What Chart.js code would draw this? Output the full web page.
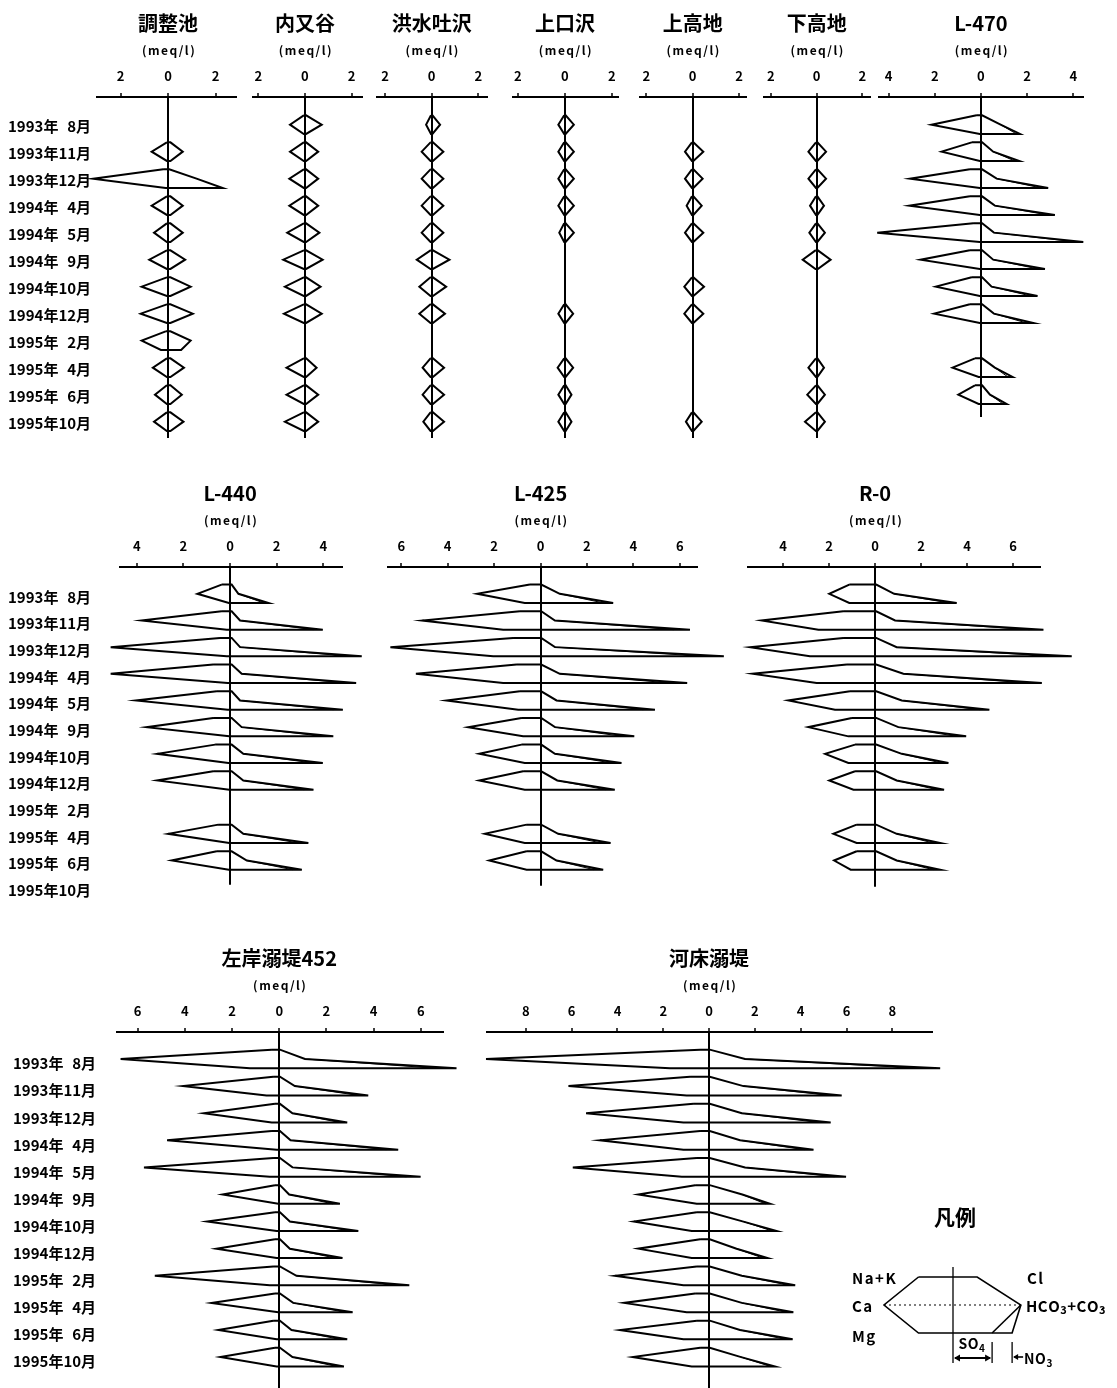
<!DOCTYPE html>
<html>
<head>
<meta charset="utf-8">
<script src="https://cdn.jsdelivr.net/npm/chart.js@4.4.1/dist/chart.umd.min.js"></script>
<style>
  html, body { margin: 0; padding: 0; background: #fff; }
  #page { position: relative; width: 1117px; height: 1388px; overflow: hidden; background: #fff; }
  #page canvas { position: absolute; left: 0; }
</style>
</head>
<body>
<div id="page"></div>
<script>
// ---- Sampling dates (rows of every Stiff diagram column) ----
const MONTHS = ['1993年\u20078月', '1993年11月', '1993年12月', '1994年\u20074月', '1994年\u20075月', '1994年\u20079月',
                '1994年10月', '1994年12月', '1995年\u20072月', '1995年\u20074月', '1995年\u20076月', '1995年10月'];

// ---- Sampling sites, in drawing order ----
const SITES = ['調整池', '内又谷', '洪水吐沢', '上口沢', '上高地', '下高地', 'L-470',
               'L-440', 'L-425', 'R-0', '左岸溺堤452', '河床溺堤'];

// ---- Axis tick values (meq/l), labelled by absolute value ----
const X_TICKS = [
  [-2, 0, 2], [-2, 0, 2], [-2, 0, 2], [-2, 0, 2], [-2, 0, 2], [-2, 0, 2], [-4, -2, 0, 2, 4],
  [-4, -2, 0, 2, 4], [-6, -4, -2, 0, 2, 4, 6], [-4, -2, 0, 2, 4, 6],
  [-6, -4, -2, 0, 2, 4, 6], [-8, -6, -4, -2, 0, 2, 4, 6, 8]
];

// ---- Ion concentrations (meq/l); one row per site, one column per date; null = not sampled ----
const NA_K = [
  [null, 0.05, 0.2, 0.05, 0.05, 0.05, 0.05, 0.05, 0.1, 0.05, 0.05, 0.05],
  [0.05, 0.05, 0.05, 0.05, 0.05, 0.05, 0.05, 0.05, null, 0.05, 0.05, 0.05],
  [0.03, 0.05, 0.05, 0.05, 0.05, 0.05, 0.05, 0.05, null, 0.05, 0.05, 0.05],
  [0.03, 0.03, 0.03, 0.03, 0.03, null, null, 0.03, null, 0.03, 0.03, 0.03],
  [null, 0.03, 0.03, 0.03, 0.03, null, 0.03, 0.03, null, null, null, 0.03],
  [null, 0.03, 0.03, 0.03, 0.03, 0.05, null, null, null, 0.03, 0.03, 0.03],
  [0.19, 0.4, 0.48, 0.48, 0.33, 0.48, 0.4, 0.48, null, 0.26, 0.26, null],
  [0.36, 0.36, 0.43, 0.72, 0.57, 0.72, 0.64, 0.72, null, 0.5, 0.57, null],
  [0.46, 0.89, 1.18, 1.03, 0.89, 0.82, 0.82, 0.75, null, 0.6, 0.6, null],
  [1.12, 1.38, 1.38, 1.23, 1.09, 1.01, 0.87, 0.87, null, 0.8, 0.8, null],
  [0.32, 0.25, 0.18, 0.32, 0.25, 0.18, 0.18, 0.18, 0.25, 0.18, 0.25, 0.18],
  [0.39, 0.83, 0.68, 0.39, 0.54, 0.61, 0.54, 0.39, 0.54, 0.61, 0.54, 0.39]
];
const CA = [
  [null, 0.69, 3.15, 0.69, 0.59, 0.79, 1.11, 1.15, 1.11, 0.64, 0.55, 0.59],
  [0.64, 0.64, 0.67, 0.67, 0.76, 0.93, 0.86, 0.9, null, 0.79, 0.79, 0.86],
  [0.24, 0.43, 0.43, 0.43, 0.43, 0.64, 0.53, 0.53, null, 0.39, 0.39, 0.36],
  [0.28, 0.28, 0.28, 0.28, 0.24, null, null, 0.28, null, 0.31, 0.28, 0.28],
  [null, 0.33, 0.33, 0.26, 0.33, null, 0.36, 0.36, null, null, null, 0.29],
  [null, 0.36, 0.36, 0.29, 0.32, 0.61, null, null, null, 0.36, 0.41, 0.51],
  [2.14, 1.7, 3.07, 3.1, 4.49, 2.61, 1.95, 2.02, null, 1.23, 0.98, null],
  [1.4, 3.79, 5.12, 5.12, 4.03, 3.58, 3.12, 3.12, null, 2.65, 2.5, null],
  [2.73, 5.09, 6.47, 5.37, 4.05, 3.12, 2.64, 2.64, null, 2.4, 2.21, null],
  [1.99, 4.93, 5.43, 5.32, 3.77, 2.9, 2.17, 1.99, null, 1.81, 1.78, null],
  [6.72, 4.07, 3.19, 4.75, 5.73, 2.4, 3.05, 2.66, 5.27, 2.87, 2.58, 2.49],
  [9.74, 6.14, 5.37, 4.76, 5.95, 3.09, 3.28, 3.09, 4.1, 3.71, 3.89, 3.33]
];
const MG = [
  [null, 0.05, 0.1, 0.05, 0.05, 0.05, 0.05, 0.05, 0.3, 0.05, 0.05, 0.05],
  [0.05, 0.05, 0.05, 0.05, 0.05, 0.05, 0.05, 0.05, null, 0.05, 0.05, 0.05],
  [0.03, 0.05, 0.05, 0.05, 0.05, 0.05, 0.05, 0.05, null, 0.05, 0.05, 0.05],
  [0.03, 0.03, 0.03, 0.03, 0.03, null, null, 0.03, null, 0.03, 0.03, 0.03],
  [null, 0.03, 0.03, 0.03, 0.03, null, 0.03, 0.03, null, null, null, 0.03],
  [null, 0.03, 0.03, 0.03, 0.03, 0.05, null, null, null, 0.03, 0.03, 0.03],
  [0.05, 0.05, 0.05, 0.05, 0.05, 0.05, 0.05, 0.05, null, 0.1, 0.1, null],
  [0.05, 0.14, 0.14, 0.1, 0.1, 0.03, 0.07, 0.03, null, 0.03, 0.05, null],
  [0.68, 1.61, 2.04, 1.61, 0.96, 0.75, 0.68, 0.68, null, 0.68, 0.6, null],
  [1.12, 2.46, 2.83, 2.54, 1.74, 1.16, 1.16, 0.94, null, 0.8, 1.06, null],
  [1.24, 0.54, 0.32, 0.11, 0.4, 0.04, 0.11, 0.11, 0.4, 0.04, 0.11, 0.11],
  [1.7, 0.98, 1.12, 1.12, 1.19, 0.54, 0.76, 0.76, 1.12, 0.98, 1.12, 0.76]
];
const CL = [
  [null, 0.1, 0.05, 0.1, 0.1, 0.1, 0.1, 0.1, 0.1, 0.1, 0.1, 0.1],
  [0.05, 0.05, 0.05, 0.05, 0.05, 0.05, 0.05, 0.05, null, 0.05, 0.05, 0.05],
  [0.03, 0.05, 0.05, 0.05, 0.05, 0.05, 0.05, 0.05, null, 0.05, 0.05, 0.05],
  [0.03, 0.03, 0.03, 0.03, 0.03, null, null, 0.03, null, 0.03, 0.03, 0.03],
  [null, 0.03, 0.03, 0.03, 0.03, null, 0.03, 0.03, null, null, null, 0.03],
  [null, 0.03, 0.03, 0.03, 0.03, 0.05, null, null, null, 0.03, 0.03, 0.03],
  [0.05, 0.05, 0.05, 0.05, 0.05, 0.05, 0.05, 0.05, null, 0.05, 0.05, null],
  [0.07, 0.07, 0.07, 0.07, 0.07, 0.07, 0.07, 0.07, null, 0.07, 0.07, null],
  [0.03, 0.03, 0.03, 0.03, 0.03, 0.03, 0.03, 0.03, null, 0.03, 0.03, null],
  [0.05, 0.05, 0.05, 0.05, 0.05, 0.05, 0.05, 0.05, null, 0.05, 0.05, null],
  [0.03, 0.03, 0.03, 0.03, 0.03, 0.03, 0.03, 0.03, 0.03, 0.03, 0.03, 0.03],
  [0.03, 0.03, 0.03, 0.03, 0.03, 0.03, 0.03, 0.03, 0.03, 0.03, 0.03, 0.03]
];
const HCO3 = [
  [null, 0.62, 1.2, 0.62, 0.62, 0.72, 0.95, 1.04, 0.95, 0.67, 0.58, 0.65],
  [0.72, 0.57, 0.57, 0.57, 0.62, 0.76, 0.67, 0.72, null, 0.5, 0.57, 0.57],
  [0.36, 0.5, 0.5, 0.5, 0.5, 0.76, 0.62, 0.57, null, 0.53, 0.53, 0.53],
  [0.38, 0.38, 0.38, 0.38, 0.38, null, null, 0.35, null, 0.35, 0.28, 0.28],
  [null, 0.46, 0.43, 0.39, 0.46, null, 0.49, 0.46, null, null, null, 0.39],
  [null, 0.41, 0.41, 0.32, 0.36, 0.61, null, null, null, 0.32, 0.36, 0.36],
  [0.85, 0.53, 0.68, 0.6, 0.56, 0.53, 0.46, 0.56, null, 0.6, 0.39, null],
  [0.36, 0.43, 0.43, 0.5, 0.43, 0.5, 0.57, 0.57, null, 0.57, 0.72, null],
  [0.83, 0.62, 0.62, 0.83, 0.69, 0.62, 0.62, 0.72, null, 0.76, 0.69, null],
  [0.83, 0.87, 0.94, 1.23, 1.16, 1.01, 1.16, 0.94, null, 0.94, 0.94, null],
  [1.09, 0.66, 0.56, 0.48, 0.56, 0.42, 0.45, 0.45, 0.73, 0.59, 0.52, 0.56],
  [1.57, 1.5, 1.43, 1.35, 1.57, 1.45, 1.5, 1.2, 1.43, 1.43, 1.35, 1.4]
];
const SO4 = [
  [null, 0.1, 2.3, 0.1, 0.1, 0.1, 0.1, 0.1, 0.55, 0.1, 0.1, 0.1],
  [0.05, 0.05, 0.05, 0.05, 0.05, 0.05, 0.05, 0.05, null, 0.05, 0.05, 0.05],
  [0.03, 0.05, 0.05, 0.05, 0.05, 0.05, 0.05, 0.05, null, 0.05, 0.05, 0.05],
  [0.03, 0.03, 0.03, 0.03, 0.03, null, null, 0.03, null, 0.03, 0.03, 0.03],
  [null, 0.03, 0.03, 0.03, 0.03, null, 0.03, 0.03, null, null, null, 0.03],
  [null, 0.03, 0.03, 0.03, 0.03, 0.05, null, null, null, 0.03, 0.03, 0.03],
  [1.54, 1.46, 2.61, 2.9, 4.13, 2.47, 2.15, 1.97, null, 1.17, 0.96, null],
  [1.45, 3.58, 5.15, 5.01, 4.44, 4.03, 3.58, 3.18, null, 2.96, 2.68, null],
  [2.73, 5.74, 7.1, 5.62, 4.43, 3.54, 3.09, 2.8, null, 2.62, 2.3, null],
  [3.25, 6.72, 7.85, 6.65, 4.57, 3.56, 2.89, 2.7, null, 2.53, 2.53, null],
  [6.71, 3.37, 2.58, 4.54, 5.39, 2.27, 3.05, 2.38, 5.01, 2.81, 2.58, 2.44],
  [9.29, 5.29, 4.81, 4.16, 5.48, 2.46, 2.75, 2.35, 3.46, 3.38, 3.35, 2.68]
];
const NO3 = [
  [null, 0, 0, 0, 0, 0, 0, 0, 0, 0, 0, 0],
  [0, 0, 0, 0, 0, 0, 0, 0, null, 0, 0, 0],
  [0, 0, 0, 0, 0, 0, 0, 0, null, 0, 0, 0],
  [0, 0, 0, 0, 0, null, null, 0, null, 0, 0, 0],
  [null, 0, 0, 0, 0, null, 0, 0, null, null, null, 0],
  [null, 0, 0, 0, 0, 0, null, null, null, 0, 0, 0],
  [0.15, 0.2, 0.3, 0.3, 0.3, 0.3, 0.3, 0.3, null, 0.2, 0.15, null],
  [0.2, 0.4, 0.5, 0.4, 0.4, 0.4, 0.4, 0.4, null, 0.4, 0.4, null],
  [0.4, 0.7, 0.8, 0.7, 0.5, 0.5, 0.4, 0.4, null, 0.4, 0.4, null],
  [0.3, 0.6, 0.7, 0.6, 0.4, 0.4, 0.3, 0.3, null, 0.3, 0.3, null],
  [0.8, 0.4, 0.3, 0.5, 0.6, 0.3, 0.3, 0.3, 0.5, 0.3, 0.3, 0.3],
  [0.8, 0.5, 0.5, 0.4, 0.5, 0.2, 0.2, 0.2, 0.3, 0.3, 0.3, 0.2]
];

// ---- Legend example diagram (meq/l) ----
const LEGEND_CATIONS = [1.5, 3.0, 1.5];      // Na+K, Ca, Mg
const LEGEND_ANIONS = [1.05, 2.95, 1.7, 0.87]; // Cl, HCO3+CO3, SO4, NO3

// ---- Page layout ----
const PAGE_W = 1117;
const AXIS_BAND = 97;     // space above each plot for title, unit and tick labels
const HALF = 0.345;       // half height of one diagram, in row units
const ROW_GEOM = [
  { axisY: 97,     firstY: 126,    step: 27,    labelX: 8,  shift: -0.05 },
  { axisY: 567.3,  firstY: 597.3,  step: 26.67, labelX: 8,  shift: -0.12 },
  { axisY: 1031.7, firstY: 1063.3, step: 27.1,  labelX: 13, shift: -0.17 }
];
const PANEL_BOX = [
  { row: 0, left: 97,    right: 236,    min: -2.99, max: 2.86, bottom: 438, labels: true },
  { row: 0, left: 253,   right: 362,    min: -2.23, max: 2.45, bottom: 438 },
  { row: 0, left: 376.7, right: 486.7,  min: -2.36, max: 2.36, bottom: 438 },
  { row: 0, left: 513,   right: 618,    min: -2.21, max: 2.26, bottom: 438 },
  { row: 0, left: 640,   right: 746,    min: -2.27, max: 2.30, bottom: 438 },
  { row: 0, left: 764,   right: 870,    min: -2.30, max: 2.33, bottom: 438 },
  { row: 0, left: 879.3, right: 1083.3, min: -4.40, max: 4.43, bottom: 417 },
  { row: 1, left: 120,   right: 341.7,  min: -4.72, max: 4.79, bottom: 885, labels: true },
  { row: 1, left: 388.3, right: 696.7,  min: -6.56, max: 6.73, bottom: 886 },
  { row: 1, left: 748.3, right: 1040,   min: -5.51, max: 7.17, bottom: 887 },
  { row: 2, left: 117.3, right: 443.3,  min: -6.86, max: 6.95, bottom: 1388, labels: true },
  { row: 2, left: 486.7, right: 931.7,  min: -9.71, max: 9.72, bottom: 1388 }
];

const FONT = '"Noto Sans CJK JP", "Noto Sans", sans-serif';
Chart.defaults.font.family = FONT;
Chart.defaults.color = '#000';

const page = document.getElementById('page');
function makeCanvas(top, height) {
  const c = document.createElement('canvas');
  c.width = PAGE_W;
  c.height = height;
  c.style.top = top + 'px';
  page.appendChild(c);
  return c;
}

const OUTLINE = { showLine: true, borderColor: '#000', borderWidth: 2, pointRadius: 0,
                  fill: false, tension: 0, clip: false, borderJoinStyle: 'miter' };
const INNER = { showLine: true, borderColor: '#000', borderWidth: 1, pointRadius: 0,
                fill: false, tension: 0, clip: false };

// One closed hexagon per sample: cations to the left, anions to the right
function stiffDatasets(site, shift) {
  const sets = [];
  MONTHS.forEach((m, i) => {
    if (CA[site][i] == null) return;
    const yc = i + shift, yt = yc - HALF, yb = yc + HALF;
    const no3 = NO3[site][i] || 0;
    sets.push(Object.assign({ label: SITES[site] + ' ' + m, data: [
      { x: -NA_K[site][i], y: yt },
      { x: -CA[site][i],   y: yc },
      { x: -MG[site][i],   y: yb },
      { x: SO4[site][i] + no3, y: yb },
      { x: HCO3[site][i],  y: yc },
      { x: CL[site][i],    y: yt },
      { x: -NA_K[site][i], y: yt }
    ] }, OUTLINE));
    if (no3 > 0) {
      sets.push(Object.assign({ label: SITES[site] + ' SO4 ' + m, data: [
        { x: SO4[site][i], y: yb },
        { x: HCO3[site][i], y: yc }
      ] }, INNER));
    }
  });
  return sets;
}

// Site name and unit, centred over the zero line of each plot
const panelTitle = {
  id: 'panelTitle',
  afterDraw(chart, args, opts) {
    const ctx = chart.ctx;
    const x = chart.scales.x.getPixelForValue(0);
    const axisY = chart.chartArea.top;
    ctx.save();
    ctx.fillStyle = '#000';
    ctx.textAlign = 'center';
    ctx.textBaseline = 'middle';
    ctx.font = 'bold 20px ' + FONT;
    ctx.fillText(opts.text, x, axisY - 74);
    ctx.font = 'bold 12px ' + FONT;
    ctx.letterSpacing = '1.5px';
    ctx.fillText('(meq/l)', x + 1, axisY - 46.5);
    ctx.restore();
  }
};

PANEL_BOX.forEach((p, site) => {
  const g = ROW_GEOM[p.row];
  const canvasTop = g.axisY - AXIS_BAND;
  const areaBottom = p.bottom - canvasTop;
  const height = Math.ceil(areaBottom + 14);
  const canvas = makeCanvas(canvasTop, height);
  const yAxis = {
    type: 'linear', reverse: true, display: !!p.labels,
    min: -(g.firstY - g.axisY) / g.step,
    max: (p.bottom - g.firstY) / g.step,
    afterBuildTicks: s => { s.ticks = MONTHS.map((m, i) => ({ value: i })); },
    grid: { display: false },
    border: { display: false },
    ticks: { autoSkip: false, crossAlign: 'far', padding: 0,
             font: { size: 15, weight: 'bold' },
             callback: v => MONTHS[v] ?? '' }
  };
  if (p.labels) yAxis.afterFit = s => { s.width = p.left - g.labelX; };
  new Chart(canvas, {
    type: 'scatter',
    data: { datasets: stiffDatasets(site, g.shift) },
    options: {
      responsive: false,
      animation: false,
      devicePixelRatio: 1,
      events: [],
      layout: { padding: { left: p.labels ? g.labelX : p.left, right: PAGE_W - p.right,
                           top: 0, bottom: height - areaBottom } },
      plugins: { legend: { display: false }, tooltip: { enabled: false },
                 panelTitle: { text: SITES[site] } },
      scales: {
        x: {
          type: 'linear', position: 'top', min: p.min, max: p.max,
          afterBuildTicks: s => { s.ticks = X_TICKS[site].map(v => ({ value: v })); },
          afterFit: s => { s.height = AXIS_BAND; },
          ticks: { autoSkip: false, maxRotation: 0, padding: 8.7,
                   font: { size: 13, weight: 'bold' },
                   callback: v => String(Math.abs(v)) },
          grid: { drawOnChartArea: true, drawTicks: true, tickLength: 4,
                  tickColor: '#000', tickWidth: 1.5, lineWidth: 2,
                  color: c => (c.tick && c.tick.value === 0) ? '#000' : 'rgba(0,0,0,0)' },
          border: { display: true, color: '#000', width: 2 }
        },
        y: yAxis
      }
    },
    plugins: [panelTitle]
  });
});

// Text with lowered, smaller digits for chemical formulas (e.g. HCO3)
function formula(ctx, text, x, y, size) {
  let cx = x;
  for (const ch of text) {
    const sub = /[0-9]/.test(ch);
    ctx.font = 'bold ' + (sub ? Math.round(size * 0.7) : size) + 'px ' + FONT;
    ctx.fillText(ch, cx, sub ? y + size * 0.28 : y);
    cx += ctx.measureText(ch).width;
  }
  return cx - x;
}

// ---- Legend (凡例) ----
const legendDecor = {
  id: 'legendDecor',
  afterDraw(chart) {
    const ctx = chart.ctx, xs = chart.scales.x, ys = chart.scales.y;
    const x0 = xs.getPixelForValue(0);
    const yT = ys.getPixelForValue(-1), yM = ys.getPixelForValue(0), yB = ys.getPixelForValue(1);
    const xS = xs.getPixelForValue(LEGEND_ANIONS[2]);
    const xN = xs.getPixelForValue(LEGEND_ANIONS[2] + LEGEND_ANIONS[3]);
    ctx.save();
    ctx.strokeStyle = '#000';
    ctx.fillStyle = '#000';
    ctx.lineWidth = 1.3;
    // zero line
    ctx.beginPath(); ctx.moveTo(x0, yT - 10); ctx.lineTo(x0, yB + 30); ctx.stroke();
    // SO4 bracket
    ctx.beginPath(); ctx.moveTo(xS, yB + 9); ctx.lineTo(xS, yB + 30); ctx.stroke();
    const ay = yB + 25;
    ctx.lineWidth = 2;
    ctx.beginPath(); ctx.moveTo(x0 + 2, ay); ctx.lineTo(xS - 2, ay); ctx.stroke();
    ctx.beginPath(); ctx.moveTo(x0 + 1, ay); ctx.lineTo(x0 + 7, ay - 3.5); ctx.lineTo(x0 + 7, ay + 3.5); ctx.closePath(); ctx.fill();
    ctx.beginPath(); ctx.moveTo(xS - 1, ay); ctx.lineTo(xS - 7, ay - 3.5); ctx.lineTo(xS - 7, ay + 3.5); ctx.closePath(); ctx.fill();
    // NO3 marker
    ctx.lineWidth = 1.3;
    ctx.beginPath(); ctx.moveTo(xN, yB + 9); ctx.lineTo(xN, yB + 30); ctx.stroke();
    ctx.lineWidth = 1.6;
    ctx.beginPath(); ctx.moveTo(xN + 2, ay - 1); ctx.lineTo(xN + 11, ay - 1); ctx.stroke();
    ctx.beginPath(); ctx.moveTo(xN + 1, ay - 1); ctx.lineTo(xN + 6, ay - 4); ctx.lineTo(xN + 6, ay + 2); ctx.closePath(); ctx.fill();
    // texts
    ctx.textBaseline = 'middle';
    ctx.textAlign = 'left';
    ctx.letterSpacing = '1.5px';
    ctx.font = 'bold 15px ' + FONT;
    ctx.fillText('Na+K', 852, yT + 1);
    ctx.fillText('Ca', 852, yM + 1);
    ctx.fillText('Mg', 852, yB + 3);
    ctx.fillText('Cl', 1027, yT + 1);
    ctx.letterSpacing = '0.5px';
    formula(ctx, 'HCO3+CO3', 1026, yM + 1, 15);
    formula(ctx, 'SO4', (x0 + xS) / 2 - 14, yB + 11, 14);
    formula(ctx, 'NO3', xN + 12, ay + 1, 14);
    ctx.letterSpacing = '0px';
    ctx.font = 'bold 21px ' + FONT;
    ctx.textAlign = 'center';
    ctx.fillText('凡例', 955, yT - 60);
    ctx.restore();
  }
};

(function () {
  const top = 1190, height = 198;
  const [naK, ca, mg] = LEGEND_CATIONS;
  const [cl, hco3, so4, no3] = LEGEND_ANIONS;
  const canvas = makeCanvas(top, height);
  new Chart(canvas, {
    type: 'scatter',
    data: { datasets: [
      Object.assign({ label: 'hexagon', data: [
        { x: -naK, y: -1 }, { x: -ca, y: 0 }, { x: -mg, y: 1 }, { x: so4 + no3, y: 1 },
        { x: hco3, y: 0 }, { x: cl, y: -1 }, { x: -naK, y: -1 }
      ] }, OUTLINE, { borderWidth: 1.6 }),
      Object.assign({ label: 'SO4', data: [{ x: so4, y: 1 }, { x: hco3, y: 0 }] }, INNER, { borderWidth: 1.6 }),
      Object.assign({ label: 'Ca-HCO3', data: [{ x: -ca, y: 0 }, { x: hco3, y: 0 }] }, INNER,
                    { borderWidth: 1.2, borderDash: [2, 3] })
    ] },
    options: {
      responsive: false, animation: false, devicePixelRatio: 1, events: [],
      layout: { padding: { left: 872.5, right: PAGE_W - 1033.5, top: 87, bottom: height - 143 } },
      plugins: { legend: { display: false }, tooltip: { enabled: false } },
      scales: {
        x: { type: 'linear', display: false, min: -3.5, max: 3.5 },
        y: { type: 'linear', display: false, reverse: true, min: -1, max: 1 }
      }
    },
    plugins: [legendDecor]
  });
})();
</script>
</body>
</html>
